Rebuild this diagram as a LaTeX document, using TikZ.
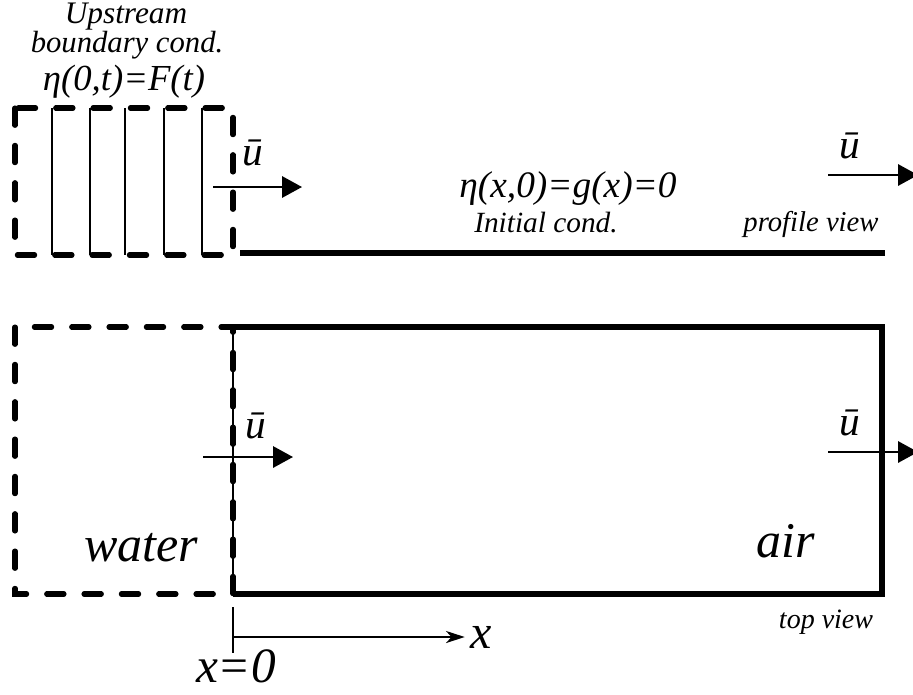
\documentclass[tikz,border=0pt]{standalone}
\usepackage{fontspec}
\setmainfont{Liberation Serif}
\usetikzlibrary{arrows.meta, positioning}

\begin{document}
\begin{tikzpicture}[x=0.75pt, y=-0.75pt, >={Triangle[length=15pt, width=16pt]},
		wall/.style={line width=4.2pt},
		dashwall/.style={line width=3.8pt, line cap=round, dash pattern=on 13pt off 15pt},
		rod/.style={line width=1.5pt},
		flow/.style={->, line width=1.6pt},
		lbl/.style={font=\itshape, inner sep=0pt, anchor=base},
		ubar/.style={lbl, font=\itshape\fontsize{31}{33}\selectfont}]

		\useasboundingbox (0,0) rectangle (913,694);

		% profile view
		\draw[dashwall] (15,108) rectangle (233,255);
		\foreach \xs in {52,90,125,164,202}
			\draw[rod] (\xs,108) -- (\xs,255);
		\draw[wall] (240,253) -- (885,253);

		\node[lbl, font=\itshape\fontsize{23.5}{24}\selectfont] (upstream) at (126,23) {Upstream};
		\node[lbl, font=\itshape\fontsize{23}{24}\selectfont] (bc) at (127,52) {boundary cond.};
		\node[lbl, font=\itshape\fontsize{27.5}{30}\selectfont] (bceq) at (124,90) {η(0,t)=F(t)};
		\node[lbl, font=\itshape\fontsize{28}{30}\selectfont] (iceq) at (568,197) {η(x,0)=g(x)=0};
		\node[lbl, font=\itshape\fontsize{22}{24}\selectfont] (ic) at (546,232) {Initial cond.};
		\node[lbl, font=\itshape\fontsize{21.5}{24}\selectfont] (profile) at (811,231) {profile view};

		\coordinate (pin) at (213,187);
		\coordinate (pinend) at (302,187);
		\draw[flow] (pin) -- (pinend);
		\node[ubar] (pinu) at (253,165) {ū};
		\coordinate (pout) at (828,175);
		\coordinate (poutend) at (918,175);
		\draw[flow] (pout) -- (poutend);
		\node[ubar] (poutu) at (850,158) {ū};

		% top view
		\draw[dashwall] (15,327) rectangle (233,594);
		\draw[rod] (233,327) -- (233,594);
		\draw[wall] (233,327) -- (882,327) -- (882,594) -- (233,594);

		\coordinate (tin) at (203,457);
		\coordinate (tinend) at (293,457);
		\draw[flow] (tin) -- (tinend);
		\node[ubar] (tinu) at (256,438) {ū};
		\coordinate (tout) at (828,452);
		\coordinate (toutend) at (918,452);
		\draw[flow] (tout) -- (toutend);
		\node[ubar] (toutu) at (850,435) {ū};

		\node[lbl, font=\itshape\fontsize{37.5}{40}\selectfont] (water) at (141,561) {water};
		\node[lbl, font=\itshape\fontsize{37.5}{40}\selectfont] (air) at (786,557) {air};
		\node[lbl, font=\itshape\fontsize{21}{24}\selectfont] (topview) at (826,628) {top view};

		% x axis
		\coordinate (tick0) at (233,607);
		\coordinate (tick1) at (233,653);
		\coordinate (xorig) at (233,637);
		\draw[rod] (tick0) -- (tick1);
		\node[font=\itshape\fontsize{36}{40}\selectfont, inner sep=0pt] (xlab) at (481,637) {x};
		\draw[rod, -{Stealth[length=14pt, width=9pt, inset=4pt]}, shorten >=4pt] (xorig) -- (xlab.west);
		\node[lbl, font=\itshape\fontsize{37}{40}\selectfont] (xzero) at (236,682) {x=0};
\end{tikzpicture}
\end{document}
